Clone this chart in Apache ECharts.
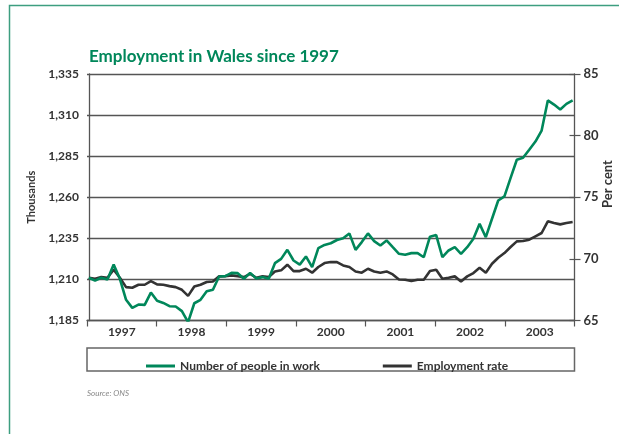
<!DOCTYPE html>
<html>
<head>
<meta charset="utf-8">
<script src="https://cdn.jsdelivr.net/npm/echarts@6/dist/echarts.min.js"></script>
<style>
html,body{margin:0;padding:0;background:#fff;}
#chart{width:619px;height:434px;}
</style>
</head>
<body>
<div id="chart"></div>
<script>
const years = ['1997','1998','1999','2000','2001','2002','2003'];
const peopleInWork = [
  1211, 1209.3, 1211, 1210, 1219, 1210.4, 1197.6, 1192.7, 1194.7, 1194.5,
  1202, 1197, 1195.7, 1193.7, 1193.5, 1190.7, 1184, 1195.5, 1197.6, 1202.8,
  1203.7, 1211.8, 1212, 1214, 1213.8, 1210.4, 1214, 1210.6, 1211.4, 1210.4,
  1219.9, 1222.5, 1228, 1221.5, 1219, 1224, 1217.5, 1229, 1231,
  1232, 1234, 1235, 1238, 1228, 1232.7, 1238, 1233.3, 1230.6, 1233.7,
  1229.6, 1225.6, 1225, 1226, 1226, 1223.5, 1236, 1237, 1223.5, 1227.6,
  1229.6, 1225.6, 1229.6, 1234.7, 1243.8, 1235.7, 1246.9, 1258, 1260.5, 1271.8,
  1282.8, 1284, 1288.9, 1293.9, 1300.6, 1318.9, 1316.4, 1313.4, 1316.8, 1318.9
];
const employmentRate = [
  68.47, 68.39, 68.52, 68.47, 69.12, 68.47, 67.71, 67.66, 67.9, 67.9,
  68.2, 67.93, 67.9, 67.79, 67.71, 67.49, 67.0, 67.76, 67.9, 68.12,
  68.17, 68.58, 68.6, 68.66, 68.6, 68.52, 68.79, 68.47, 68.58, 68.52,
  68.98, 69.07, 69.53, 69.01, 69.01, 69.2, 68.88, 69.34, 69.66,
  69.74, 69.74, 69.47, 69.34, 68.98, 68.88, 69.2, 68.98, 68.88, 68.98,
  68.74, 68.33, 68.31, 68.2, 68.31, 68.31, 69.01, 69.12, 68.39, 68.47,
  68.58, 68.17, 68.58, 68.85, 69.28, 68.88, 69.6, 70.09, 70.47, 70.96,
  71.42, 71.45, 71.56, 71.83, 72.1, 73.05, 72.91, 72.8, 72.91, 72.99
];

const GREEN = '#00875a';
const DARK = '#333333';
const FONT = 'Lato';

const chart = echarts.init(document.getElementById('chart'), null, {renderer:'canvas'});
const fmtThousands = v => {
  const s = String(Math.round(v));
  return s.replace(/\B(?=(\d{3})+(?!\d))/g, ',');
};

chart.setOption({
  animation: false,
  backgroundColor: '#fff',
  title: {
    text: 'Employment in Wales since 1997',
    left: 84, top: 43,
    textStyle: {color: GREEN, fontFamily: FONT, fontWeight: 'bold', fontSize: 17}
  },
  legend: {
    left: 141, top: 355,
    itemWidth: 29, itemHeight: 3, itemGap: 63,
    icon: 'rect',
    textStyle: {fontFamily: FONT, fontWeight: 'bold', fontSize: 12, color: DARK},
    data: ['Number of people in work', 'Employment rate']
  },
  grid: {left: 87, right: 44.5, top: 74, bottom: 113.5, containLabel: false},
  xAxis: [
    {
      type: 'category', data: years, boundaryGap: true,
      axisLine: {show: true, lineStyle: {color: '#555', width: 1.3}},
      axisTick: {show: true, inside: false, length: 6, lineStyle: {color: '#555', width: 1.2}},
      axisLabel: {margin: 6, fontFamily: FONT, fontWeight: 'bold', fontSize: 12, color: DARK},
      splitLine: {show: false}
    },
    {
      type: 'value', min: -0.3, max: 78.3, show: false
    }
  ],
  yAxis: [
    {
      type: 'value', position: 'left', min: 1185, max: 1335, interval: 25,
      name: 'Thousands', nameLocation: 'middle', nameRotate: 90, nameGap: 50,
      nameTextStyle: {fontFamily: FONT, fontWeight: 'bold', fontSize: 11, color: DARK},
      axisLine: {show: true, lineStyle: {color: '#555', width: 1.3}},
      axisTick: {show: false},
      axisLabel: {margin: 8, fontFamily: FONT, fontWeight: 'bold', fontSize: 12, color: DARK, formatter: fmtThousands},
      splitLine: {show: true, lineStyle: {color: '#555', width: 1.3}}
    },
    {
      type: 'value', position: 'right', min: 65, max: 85, interval: 5,
      axisLine: {show: true, lineStyle: {color: '#555', width: 1.3}},
      axisTick: {show: true, inside: false, length: 6, lineStyle: {color: '#555', width: 1.2}},
      axisLabel: {margin: 9, fontFamily: FONT, fontWeight: 'bold', fontSize: 13, color: DARK},
      splitLine: {show: false}
    },
    {
      type: 'value', position: 'right', min: 65, max: 85, interval: 5,
      axisLine: {show: false},
      axisTick: {show: true, inside: true, length: 5, lineStyle: {color: '#555', width: 1.2}},
      axisLabel: {show: false},
      splitLine: {show: false}
    }
  ],
  series: [
    {
      name: 'Employment rate', type: 'line', xAxisIndex: 1, yAxisIndex: 1,
      symbol: 'none', z: 2,
      lineStyle: {color: DARK, width: 2.6}, itemStyle: {color: DARK},
      data: employmentRate.map((v, i) => [i, v])
    },
    {
      name: 'Number of people in work', type: 'line', xAxisIndex: 1, yAxisIndex: 0,
      symbol: 'none', z: 3,
      lineStyle: {color: GREEN, width: 2.6}, itemStyle: {color: GREEN},
      data: peopleInWork.map((v, i) => [i, v])
    }
  ],
  graphic: [
    {
      type: 'rect', left: 7, top: 3, silent: true,
      shape: {x: 0, y: 0, width: 700, height: 500},
      style: {fill: 'none', stroke: '#3d9e80', lineWidth: 1.5}
    },
    {
      type: 'rect', silent: true,
      shape: {x: 87, y: 348, width: 487.5, height: 23},
      style: {fill: 'none', stroke: '#666', lineWidth: 1.5}
    },
    {
      type: 'text', silent: true, x: 87, y: 389,
      style: {text: 'Source: ONS', fill: '#888', font: 'italic 8px ' + FONT}
    },
    {
      type: 'text', silent: true, x: 608, y: 184, rotation: Math.PI / 2,
      style: {text: 'Per cent', fill: DARK, font: 'bold 13px ' + FONT, align: 'center', verticalAlign: 'middle'}
    }
  ]
});
</script>
</body>
</html>
